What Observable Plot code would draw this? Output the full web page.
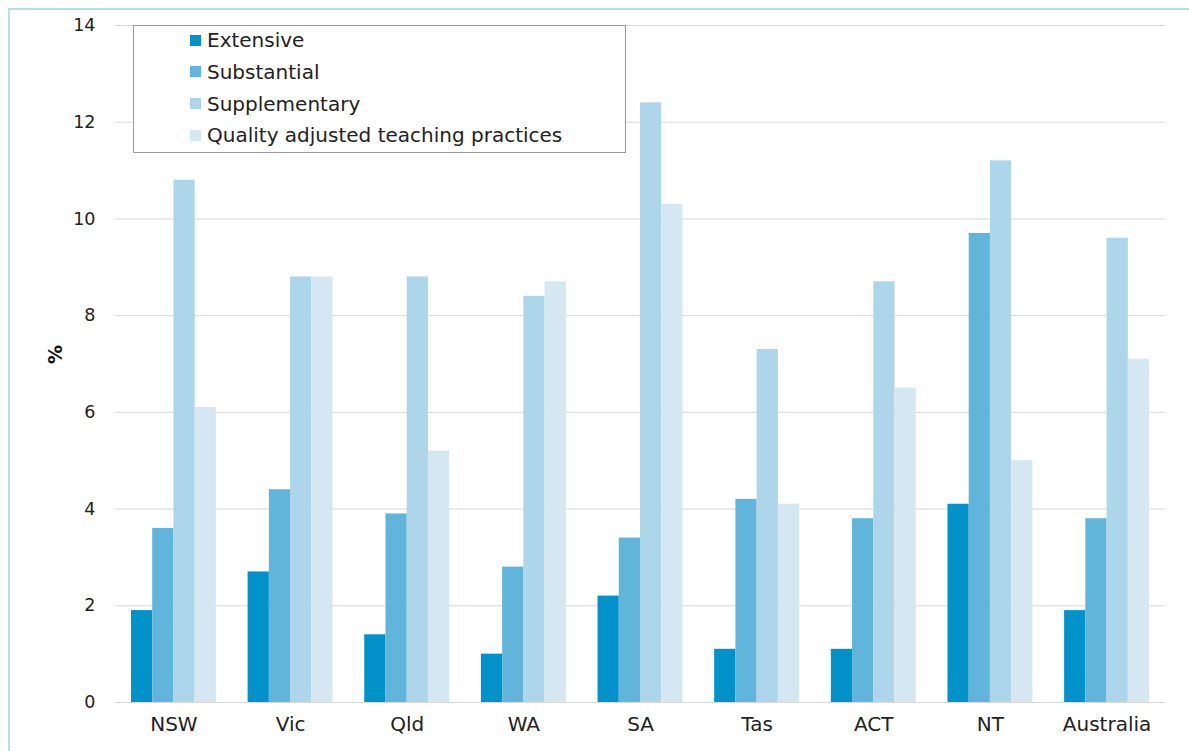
<!DOCTYPE html>
<html>
<head>
<meta charset="utf-8">
<script src="https://cdn.jsdelivr.net/npm/d3@7"></script>
<script src="https://cdn.jsdelivr.net/npm/@observablehq/plot@0.6"></script>
<style>
  html, body { margin: 0; padding: 0; background: #fff; overflow: hidden; }
  body { width: 1189px; height: 751px; position: relative; font-family: "DejaVu Sans", sans-serif; }
  #chart { position: absolute; left: 0; top: 0; }
  #frame { position: absolute; left: 8px; top: 8px; width: 1200px; height: 800px; border: 2px solid #b5ddf0; box-sizing: border-box; pointer-events: none; }
  #legend { position: absolute; left: 133px; top: 25px; width: 493px; height: 128px; border: 1px solid #999; box-sizing: border-box; background: #fff; }
  .item { position: absolute; left: 56px; display: flex; align-items: center; font-size: 20px; color: #222; white-space: nowrap; }
  .sw { width: 11px; height: 11px; margin-right: 6px; }
</style>
</head>
<body>
<div id="chart"></div>
<div id="legend"></div>
<div id="frame"></div>
<script>
const states = ["NSW", "Vic", "Qld", "WA", "SA", "Tas", "ACT", "NT", "Australia"];
const seriesNames = ["Extensive", "Substantial", "Supplementary", "Quality adjusted teaching practices"];
const extensive     = [1.9, 2.7, 1.4, 1.0, 2.2, 1.1, 1.1, 4.1, 1.9];
const substantial   = [3.6, 4.4, 3.9, 2.8, 3.4, 4.2, 3.8, 9.7, 3.8];
const supplementary = [10.8, 8.8, 8.8, 8.4, 12.4, 7.3, 8.7, 11.2, 9.6];
const quality       = [6.1, 8.8, 5.2, 8.7, 10.3, 4.1, 6.5, 5.0, 7.1];
const colors = ["#0092c9", "#62b5da", "#add6ea", "#d5e7f0"];
const yTicks = [0, 2, 4, 6, 8, 10, 12, 14];

const seriesValues = [extensive, substantial, supplementary, quality];
const data = [];
seriesNames.forEach((s, si) => states.forEach((st, i) => data.push({state: st, series: s, value: seriesValues[si][i]})));

const width = 1189, height = 751;
const marginLeft = 115, marginRight = 24, marginTop = 25, marginBottom = 49;
const pIn = 0.272, pOut = 0.137;
const xs = d3.scaleBand().domain(states).range([marginLeft, width - marginRight]).paddingInner(pIn).paddingOuter(pOut);
const bw = xs.bandwidth();
const sub = bw / seriesNames.length;

const marks = [
  Plot.gridY(yTicks, {stroke: "#d9d9d9", strokeOpacity: 1, strokeWidth: 1}),
  Plot.axisY(yTicks, {tickSize: 0, tickPadding: 20, fontSize: 17.5, fill: "#222", label: null}),
  Plot.axisX({tickSize: 0, tickPadding: 14, fontSize: 20, fill: "#222", label: null}),
  Plot.text(["%"], {frameAnchor: "left", dx: -60, rotate: -90, fontWeight: "bold", fontSize: 19, fill: "#111"})
];
seriesNames.forEach((s, i) => {
  marks.push(Plot.barY(data.filter(d => d.series === s), {
    x: "state", y: "value", fill: "series",
    insetLeft: i * sub, insetRight: (seriesNames.length - 1 - i) * sub
  }));
});

const chart = Plot.plot({
  width, height, marginLeft, marginRight, marginTop, marginBottom,
  style: {fontFamily: "'DejaVu Sans', sans-serif", background: "#fff"},
  x: {domain: states, paddingInner: pIn, paddingOuter: pOut, round: false},
  y: {domain: [0, 14]},
  color: {domain: seriesNames, range: colors},
  marks
});
document.getElementById("chart").appendChild(chart);

const legend = document.getElementById("legend");
seriesNames.forEach((s, i) => {
  const div = document.createElement("div");
  div.className = "item";
  div.style.top = (2 + i * 31.8) + "px";
  div.innerHTML = `<span class="sw" style="background:${colors[i]}"></span><span>${s}</span>`;
  legend.appendChild(div);
});
</script>
</body>
</html>
